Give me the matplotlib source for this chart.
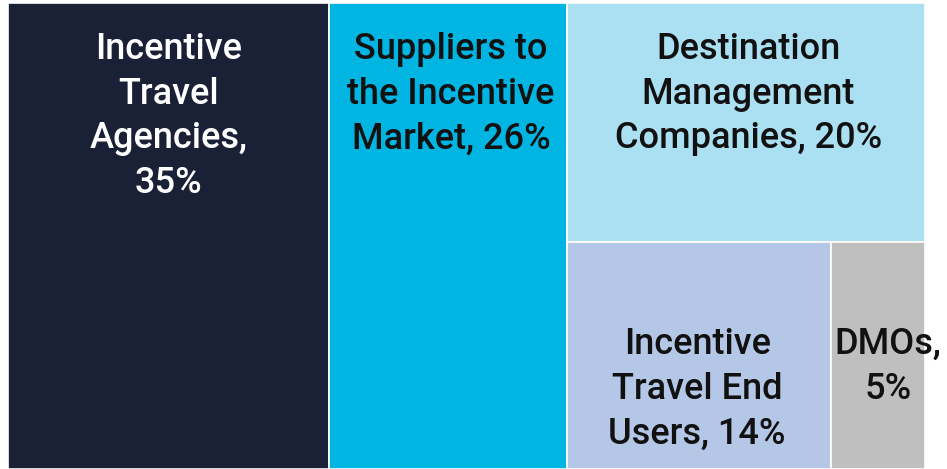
import matplotlib
matplotlib.use('Agg')
import matplotlib.pyplot as plt
from matplotlib.patches import Rectangle

plt.rcParams['font.family'] = ['Roboto', 'DejaVu Sans']

# ── Data ────────────────────────────────────────────────────
labels = ['Incentive\nTravel\nAgencies,\n35%',
          'Suppliers to\nthe Incentive\nMarket, 26%',
          'Destination\nManagement\nCompanies, 20%',
          'Incentive\nTravel End\nUsers, 14%',
          'DMOs,\n5%']
values = [35, 26, 20, 14, 5]
colors = ['#1a2035', '#00b5e2', '#abdff2', '#b4c7e7', '#bfbfbf']
text_colors = ['white', '#111111', '#111111', '#111111', '#111111']

# ── Layout (two columns, then right block split top/bottom) ──
W, H = 100.0, 100.0
rects = []
x = 0.0
for v in values[:2]:
    w = v / sum(values) * W
    rects.append((x, 0.0, w, H))
    x += w
rest = sum(values[2:])
wr = W - x
h_top = values[2] / rest * H
rects.append((x, H - h_top, wr, h_top))
xb = x
for v in values[3:]:
    w = v / sum(values[3:]) * wr
    rects.append((xb, 0.0, w, H - h_top))
    xb += w

fig = plt.figure(figsize=(9.47, 4.69), dpi=100)
ax = fig.add_axes([8 / 947, 0, 917 / 947, 466 / 469])
ax.set_xlim(0, W)
ax.set_ylim(0, H)
ax.axis('off')

# text offset from top of each tile (pixels)
top_pad = [-29, -29, -29, -85, -85]
x_shift = [0, 3, 2, -2, 10]

for (rx, ry, rw, rh), lab, c, tc, dy, dx in zip(rects, labels, colors, text_colors, top_pad, x_shift):
    ax.add_patch(Rectangle((rx, ry), rw, rh, facecolor=c, edgecolor='white', linewidth=1.2))
    ax.annotate(lab, (rx + rw / 2, ry + rh), xytext=(dx, dy), textcoords='offset pixels',
                ha='center', va='top', color=tc, fontsize=26, fontweight='medium',
                linespacing=1.36, annotation_clip=False)

fig.savefig('out.png', dpi=100)
